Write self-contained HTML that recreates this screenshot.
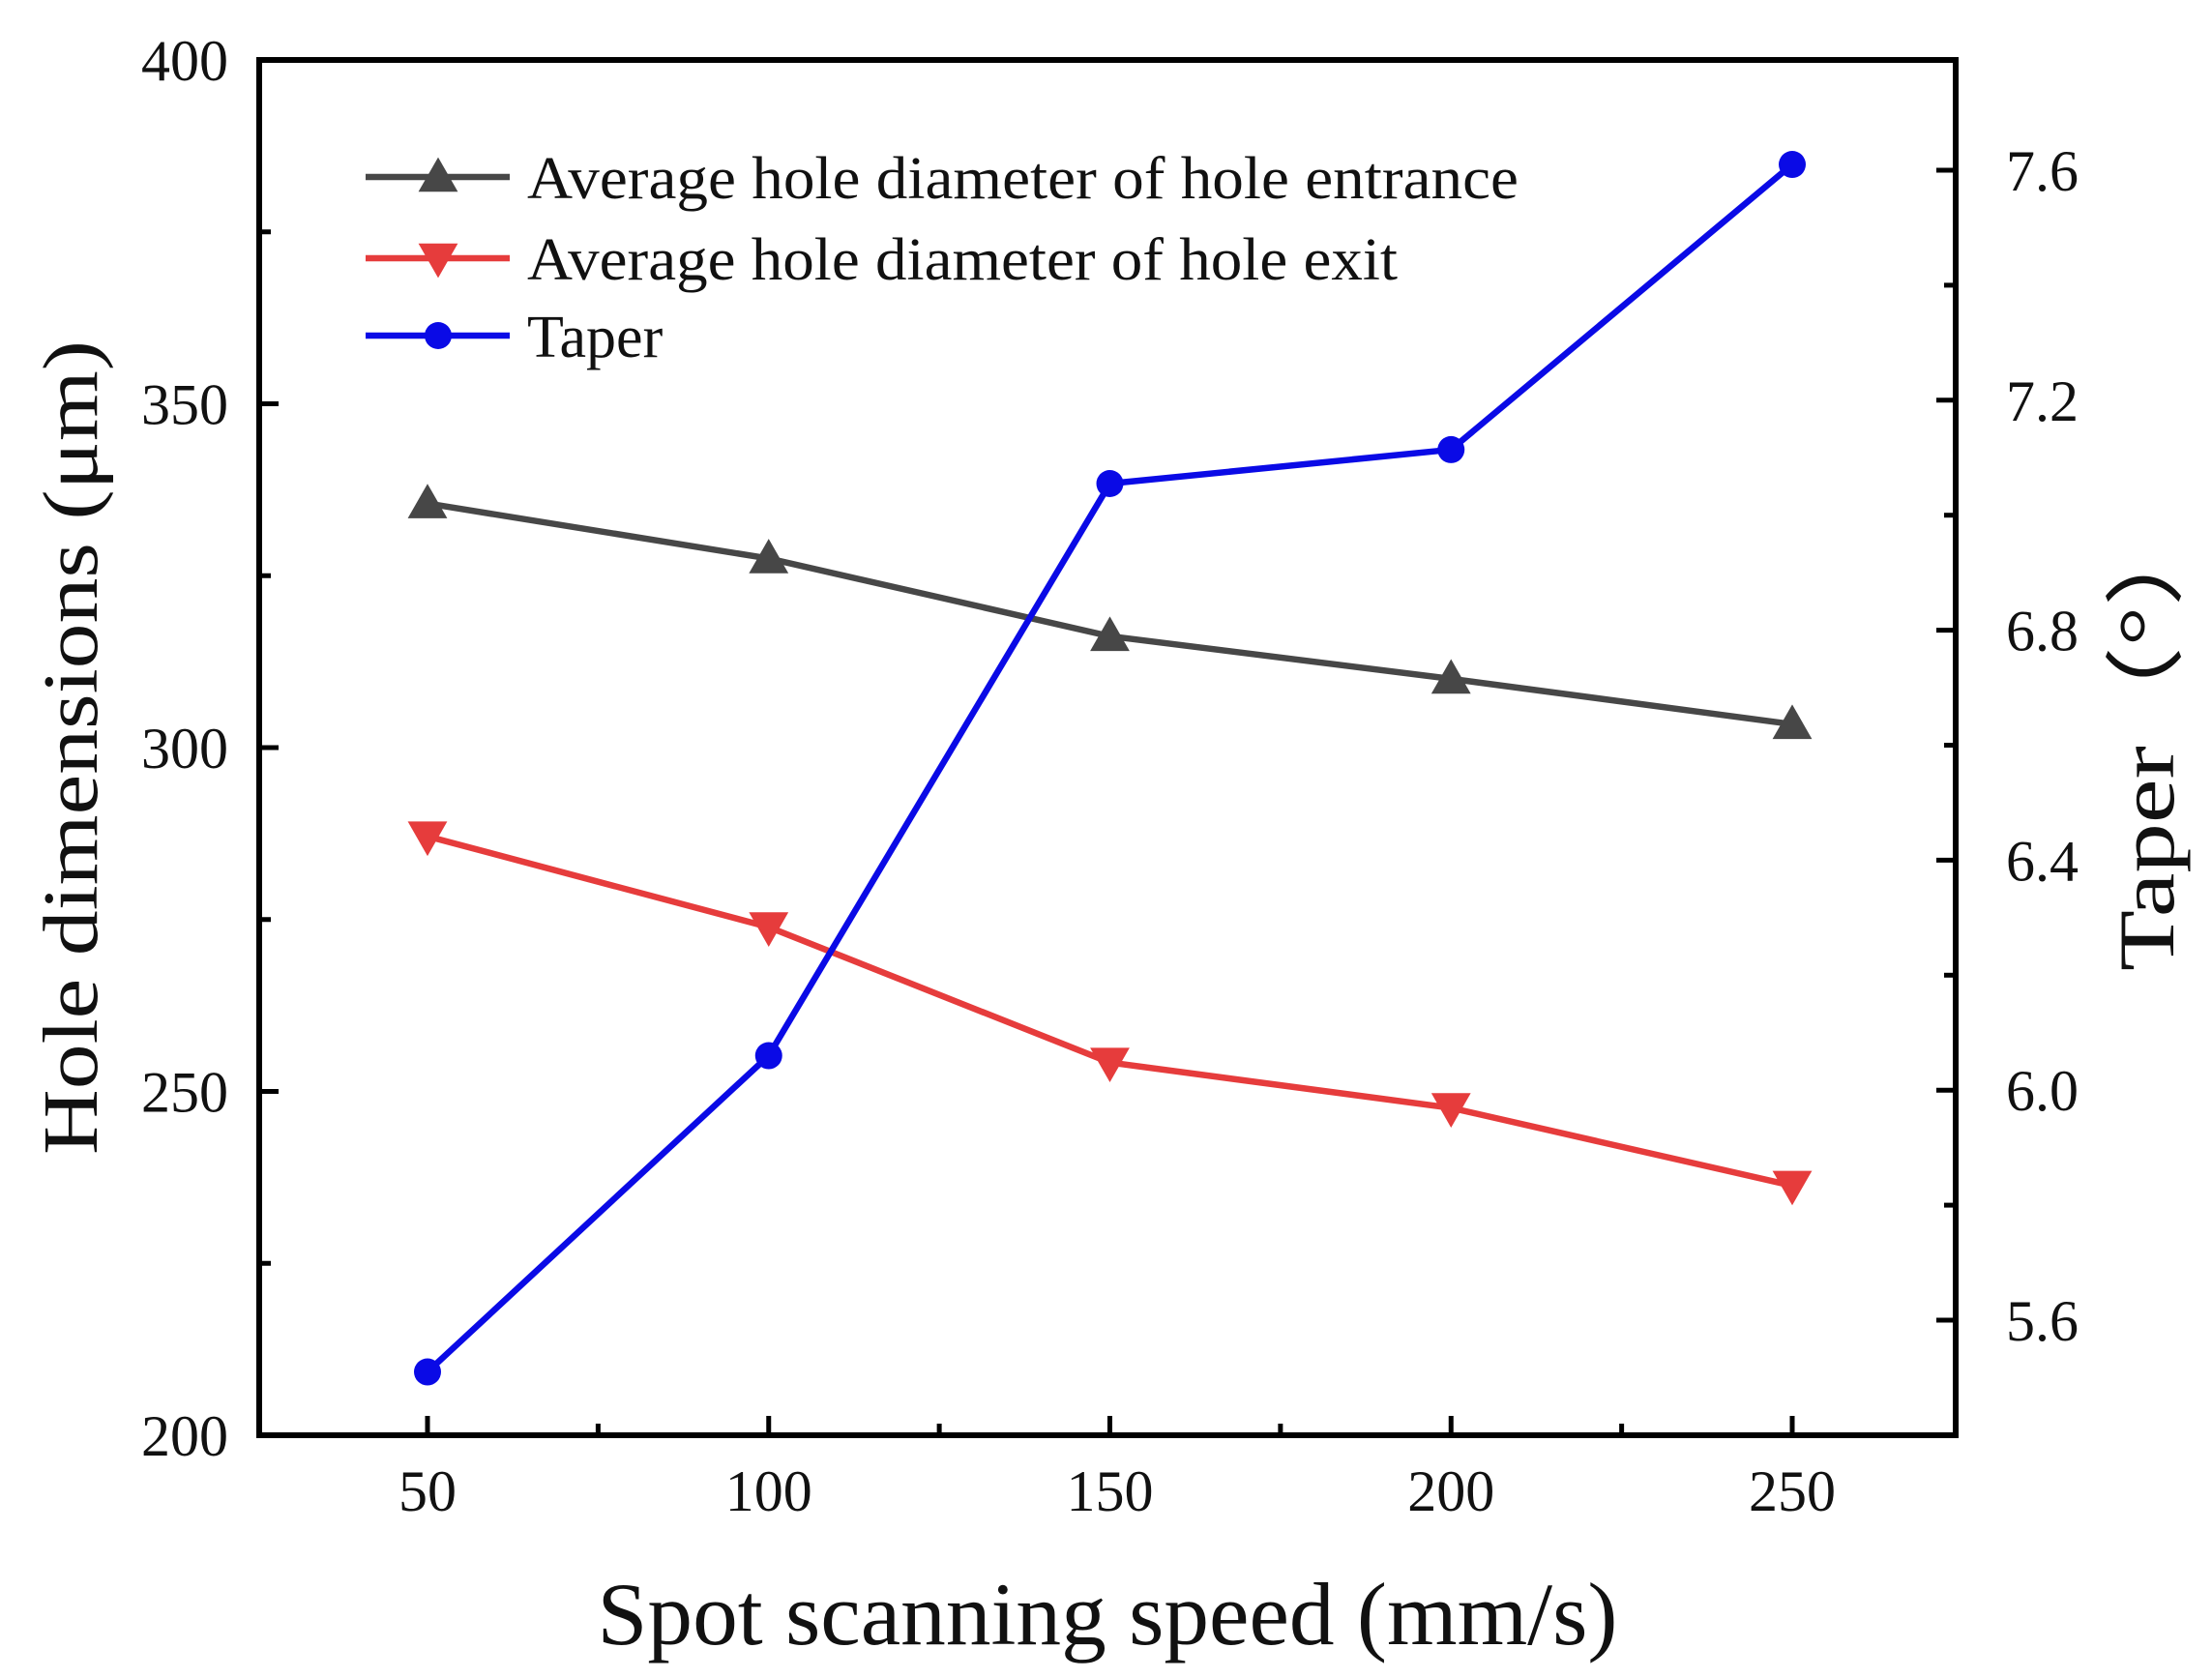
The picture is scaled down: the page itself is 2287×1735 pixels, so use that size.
<!DOCTYPE html>
<html><head><meta charset="utf-8"><style>html,body{margin:0;padding:0;background:#fff}svg{display:block}text{font-family:"Liberation Serif",serif;fill:#111}</style></head>
<body>
<svg id="chart" width="2287" height="1735" viewBox="0 0 2287 1735" xmlns="http://www.w3.org/2000/svg">
<g id="g"></g>
</svg>
<script>
const speeds=[50,100,150,200,250];
const entrance=[335.5,327.5,316.2,310.0,303.4];
const exitD=[287.1,273.9,254.2,247.6,236.3];
const taper=[5.51,6.06,7.055,7.114,7.61];
const xTicks=[50,100,150,200,250];
const yLeftTicks=[200,250,300,350,400];
const yRightTicks=["5.6","6.0","6.4","6.8","7.2","7.6"];

const L=268,R=2022,T=62,B=1484;
const xs=v=>442+(v-50)*(1853-442)/200;
const yl=v=>B-(v-200)*(B-T)/200;
const yr=v=>1365-(v-5.6)*(1365-176)/2.0;
const NS="http://www.w3.org/2000/svg";
const g=document.getElementById('g');
function el(tag,attrs,parent){const e=document.createElementNS(NS,tag);for(const k in attrs)e.setAttribute(k,attrs[k]);(parent||g).appendChild(e);return e;}

let f=el('rect',{x:L,y:T,width:R-L,height:B-T,fill:'none',stroke:'#000','stroke-width':6});



for(let v=25;v<=275;v+=25){const x=xs(v);const major=(v%50===0);
 if(x<=L||x>=R)continue;
 let t=el('line',{x1:x,x2:x,y1:B,y2:B-(major?20:12),stroke:'#000','stroke-width':5});
 
 }
xTicks.forEach(v=>{let t=el('text',{x:xs(v),y:1562,'font-size':60,'text-anchor':'middle'});t.textContent=v;
 
 });
for(let v=200;v<=400;v+=25){const y=yl(v);const major=(v%50===0);
 let t=el('line',{x1:L,x2:L+(major?20:12),y1:y,y2:y,stroke:'#000','stroke-width':5});
 
 }
yLeftTicks.forEach(v=>{let t=el('text',{x:236,y:yl(v)+21,'font-size':60,'text-anchor':'end'});t.textContent=v;
 
 });
for(let i=0;i<=11;i++){const v=5.4+i*0.2;const y=yr(v);if(y<T||y>B)continue;const major=(i%2===1);
 let t=el('line',{x1:R,x2:R-(major?20:12),y1:y,y2:y,stroke:'#000','stroke-width':5});
 
 }
yRightTicks.forEach(s=>{let t=el('text',{x:2074,y:yr(parseFloat(s))+21,'font-size':60});t.textContent=s;
 
 });

let xt=el('text',{x:1145,y:1700,'font-size':92,'text-anchor':'middle',textLength:1055,lengthAdjust:'spacingAndGlyphs'});xt.textContent='Spot scanning speed (mm/s)';


let yt=el('text',{x:0,y:0,'font-size':80,'text-anchor':'middle',transform:'translate(100,773) rotate(-90)',textLength:842,lengthAdjust:'spacingAndGlyphs'});yt.textContent='Hole dimensions (μm)';


let rt=el('text',{x:0,y:0,'font-size':82,'text-anchor':'middle',transform:'translate(2247,764) rotate(-90)',textLength:480,lengthAdjust:'spacingAndGlyphs'});rt.textContent='Taper（°）';



function tri(cx,cy,s,up,color,name){const h=s;const p=up?`${cx},${cy-h*0.6} ${cx-s*0.6},${cy+h*0.45} ${cx+s*0.6},${cy+h*0.45}`:`${cx},${cy+h*0.6} ${cx-s*0.6},${cy-h*0.45} ${cx+s*0.6},${cy-h*0.45}`;
 let e=el('polygon',{points:p,fill:color});
 
 }

function series(vals,yf,color,kind,name){
 let pts=speeds.map((s,i)=>xs(s)+','+yf(vals[i])).join(' ');
 let pl=el('polyline',{points:pts,fill:'none',stroke:color,'stroke-width':6.5});
 
 
 speeds.forEach((s,i)=>{const x=xs(s),y=yf(vals[i]);
  if(kind==='c'){let c=el('circle',{cx:x,cy:y,r:14,fill:color});
   
   }
  else tri(x,y,34,kind==='up',color,name+'-point');});
}
series(entrance,yl,'#474747','up','entrance-diameter');
series(exitD,yl,'#e63c3c','down','exit-diameter');
series(taper,yr,'#0a0ae6','c','taper');

const leg=[['Average hole diameter of hole entrance','#474747','up',183],['Average hole diameter of hole exit','#e63c3c','down',267],['Taper','#0a0ae6','c',347]];
const lw=[1025,900,150];
leg.forEach((l,i)=>{const y=l[3];
 let ln=el('line',{x1:378,x2:527,y1:y,y2:y,stroke:l[1],'stroke-width':6.5});
 
 
 if(l[2]==='c'){let c=el('circle',{cx:453,cy:y,r:14,fill:l[1]});
  
  }
 else tri(453,y,34,l[2]==='up',l[1],'legend-marker');
 let t=el('text',{x:545,y:y+22,'font-size':62});t.textContent=l[0];
 if(i<2){t.setAttribute('textLength',lw[i]);t.setAttribute('lengthAdjust','spacingAndGlyphs');}
 
 });
</script>
</body></html>
